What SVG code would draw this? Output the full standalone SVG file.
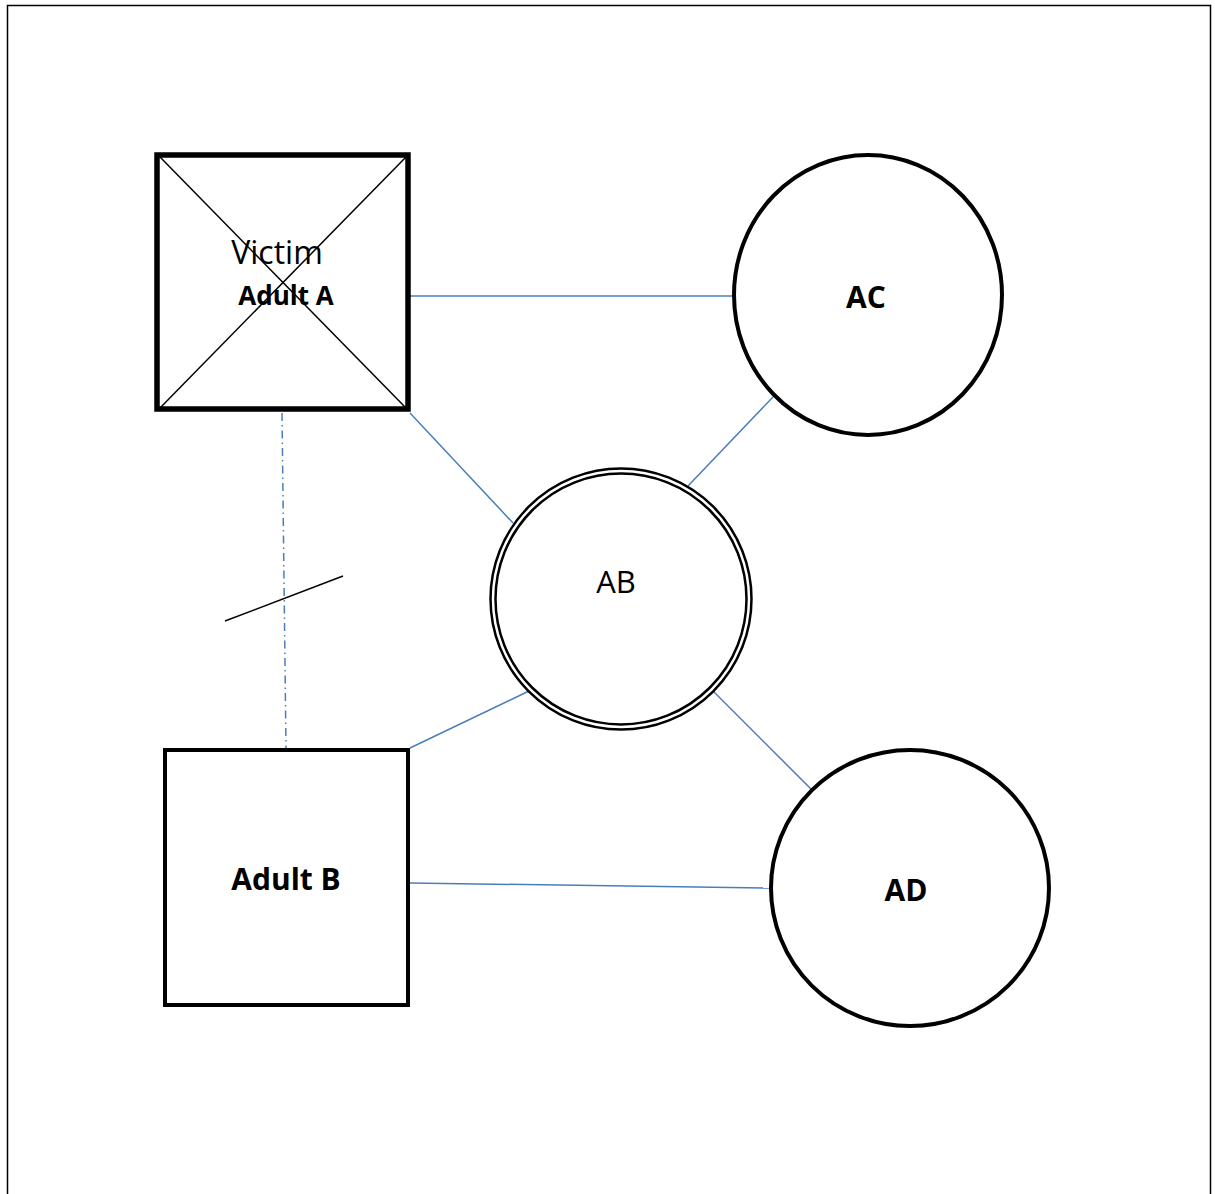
<svg xmlns="http://www.w3.org/2000/svg" width="1215" height="1194" viewBox="0 0 1215 1194">
<style>
.node{fill:#fff;stroke:#000}
.conn{stroke:#4a7ebb;stroke-width:1.5;fill:none}
.t{font-family:"Open Sans","Liberation Sans",sans-serif;fill:#000;text-anchor:middle}
.b{font-weight:bold}
</style>
<rect width="1215" height="1194" fill="#fff"/>
<path d="M7.5,1194 V5.5 H1210.5 V1194" fill="none" stroke="#000" stroke-width="1.5"/>
<g id="connectors">
<line class="conn" x1="410" y1="296" x2="733" y2="296"/>
<line class="conn" x1="410" y1="413" x2="513" y2="523"/>
<line class="conn" x1="773" y1="397" x2="688" y2="486"/>
<line class="conn" x1="410" y1="748" x2="529" y2="691"/>
<line class="conn" x1="714" y1="692" x2="811" y2="789"/>
<line class="conn" x1="410" y1="883" x2="770" y2="888"/>
<line class="conn" x1="282" y1="413" x2="286" y2="748" stroke-dasharray="8,4,1.5,4"/>
<line x1="225" y1="621" x2="343" y2="576" stroke="#000" stroke-width="1.5"/>
</g>
<g id="adultA">
<rect class="node" x="157" y="155" width="251" height="254" stroke-width="5.5"/>
<line x1="160" y1="157" x2="406" y2="408" stroke="#000" stroke-width="1.5"/>
<line x1="406" y1="157" x2="160" y2="408" stroke="#000" stroke-width="1.5"/>
<text class="t" x="277" y="264" font-size="32">Victim</text>
<text class="t b" x="286" y="305" font-size="26">Adult A</text>
</g>
<g id="AC">
<ellipse class="node" cx="868" cy="295" rx="134" ry="140" stroke-width="4"/>
<text class="t b" x="866" y="308" font-size="30">AC</text>
</g>
<g id="AB">
<circle class="node" cx="621" cy="599" r="130.5" stroke-width="2.5"/>
<circle fill="none" stroke="#000" cx="621" cy="599" r="125.5" stroke-width="2.5"/>
<text class="t" x="616" y="593" font-size="31">AB</text>
</g>
<g id="adultB">
<rect class="node" x="165" y="750" width="243" height="255" stroke-width="4"/>
<text class="t b" x="286" y="890" font-size="30">Adult B</text>
</g>
<g id="AD">
<ellipse class="node" cx="910" cy="888" rx="139" ry="138" stroke-width="4"/>
<text class="t b" x="906" y="901" font-size="30">AD</text>
</g>
</svg>
